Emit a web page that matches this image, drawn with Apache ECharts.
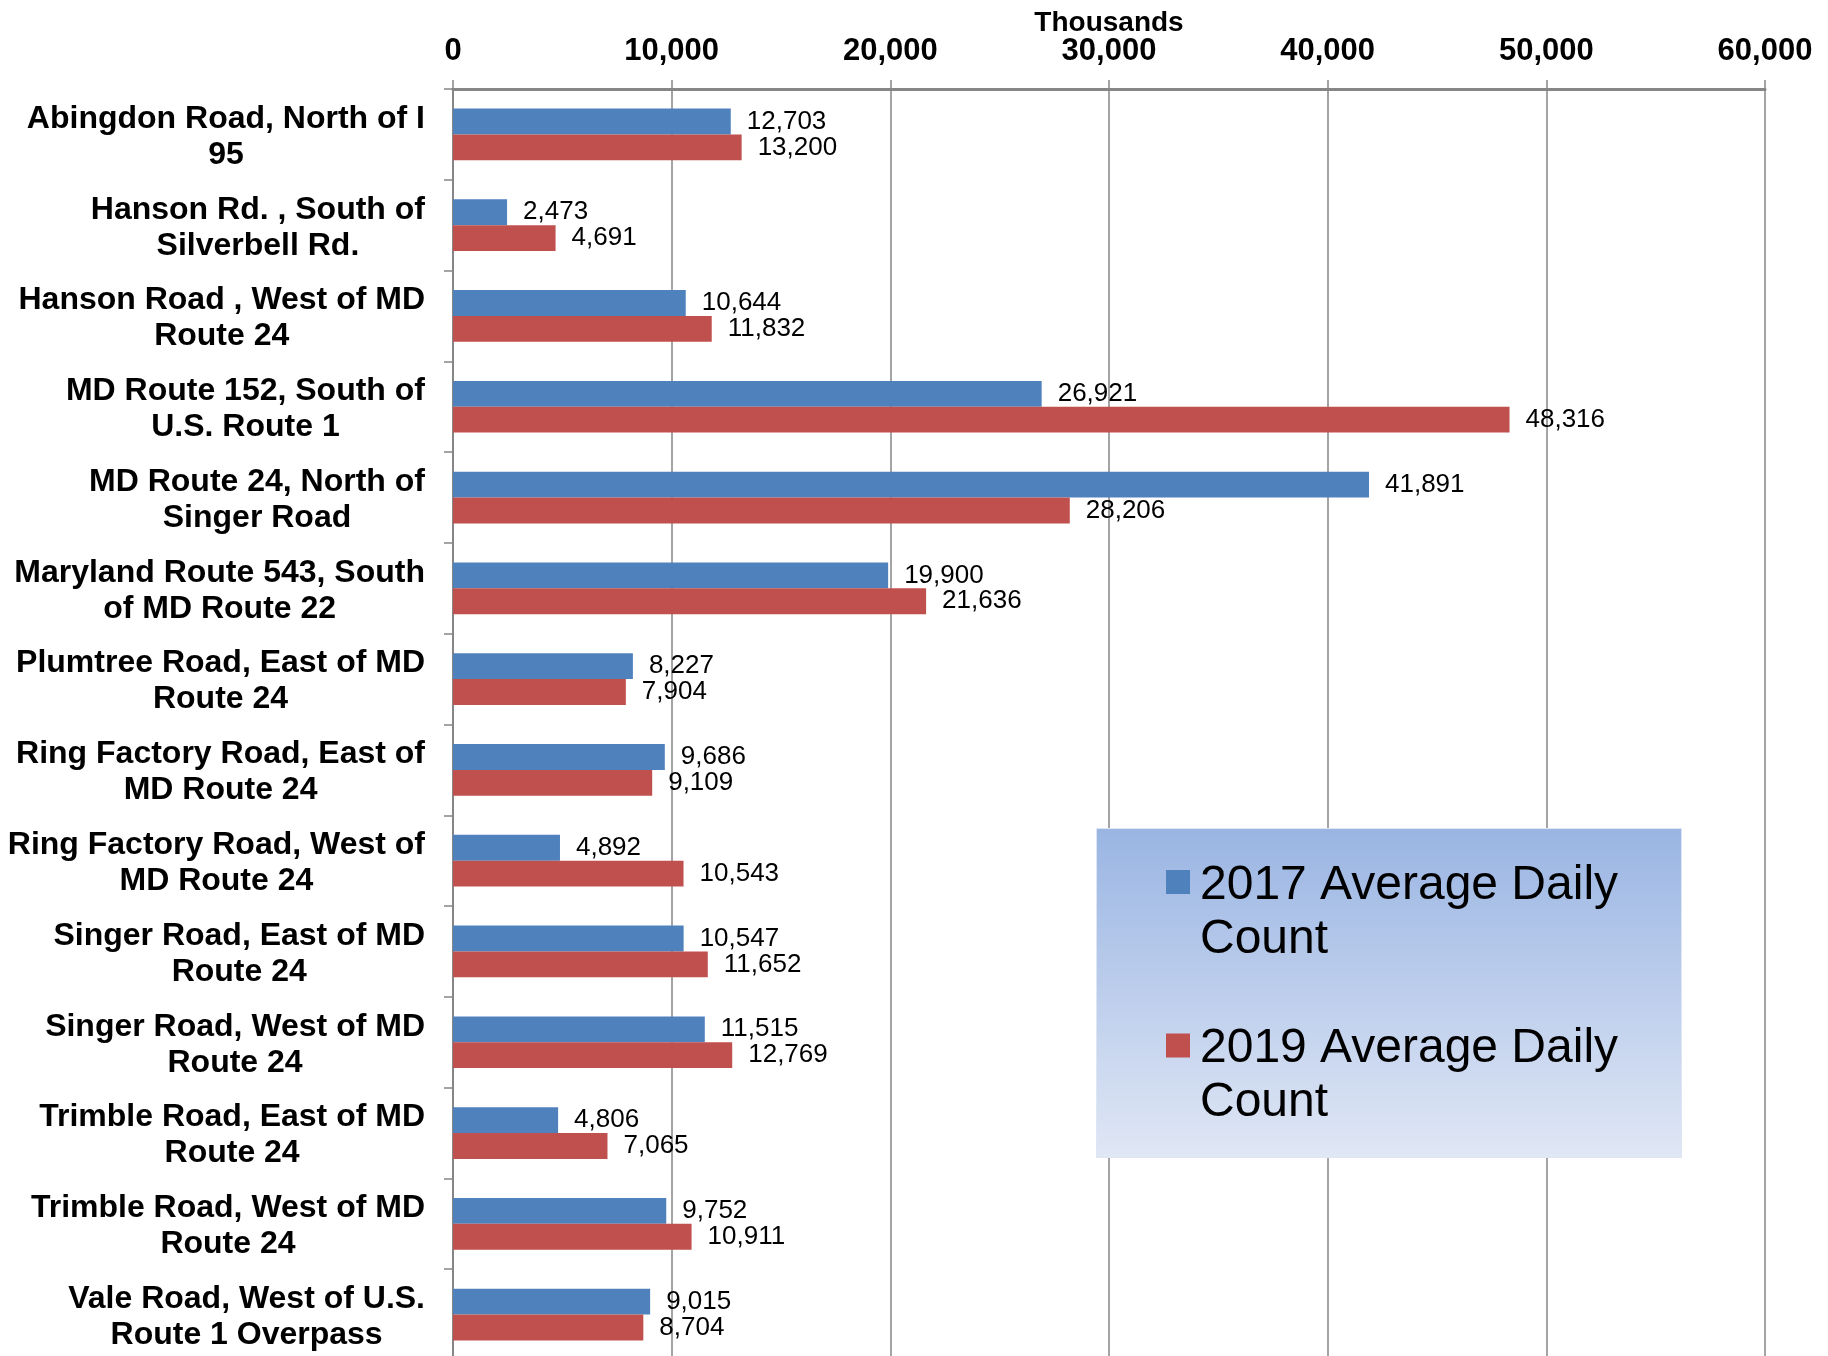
<!DOCTYPE html>
<html>
<head>
<meta charset="utf-8">
<title>Average Daily Count</title>
<script src="https://cdn.jsdelivr.net/npm/echarts@6/dist/echarts.min.js"></script>
<style>
  html, body { margin: 0; padding: 0; background: #fff; }
  #chart { width: 1828px; height: 1356px; }
</style>
</head>
<body>
<div id="chart"></div>
<script>
  const locations = [
    'Abingdon Road, North of I\n95',
    'Hanson Rd. , South of\nSilverbell Rd.',
    'Hanson Road , West of MD\nRoute 24',
    'MD Route 152, South of\nU.S. Route 1',
    'MD Route 24, North of\nSinger Road',
    'Maryland Route 543, South\nof MD Route 22',
    'Plumtree Road, East of MD\nRoute 24',
    'Ring Factory Road, East of\nMD Route 24',
    'Ring Factory Road, West of\nMD Route 24',
    'Singer Road, East of MD\nRoute 24',
    'Singer Road, West of MD\nRoute 24',
    'Trimble Road, East of MD\nRoute 24',
    'Trimble Road, West of MD\nRoute 24',
    'Vale Road, West of U.S.\nRoute 1 Overpass'
  ];
  const count2017 = [12703, 2473, 10644, 26921, 41891, 19900, 8227, 9686, 4892, 10547, 11515, 4806, 9752, 9015];
  const count2019 = [13200, 4691, 11832, 48316, 28206, 21636, 7904, 9109, 10543, 11652, 12769, 7065, 10911, 8704];
  const seriesNames = ['2017 Average Daily\nCount', '2019 Average Daily\nCount'];

  const font = '"Liberation Sans", Arial, sans-serif';
  const gray = '#868686';

  const chart = echarts.init(document.getElementById('chart'));

  const barLabel = {
    show: true,
    position: 'right',
    distance: 16,
    color: '#000',
    fontFamily: font,
    fontSize: 26,
    formatter: (p) => p.value.toLocaleString('en-US')
  };

  const option = {
    animation: false,
    grid: { left: 453, right: 63, top: 89, bottom: -4, containLabel: false, outerBoundsMode: 'none' },
    xAxis: {
      type: 'value',
      position: 'top',
      min: 0,
      max: 60000,
      interval: 10000,
      name: 'Thousands',
      nameLocation: 'middle',
      nameGap: 52,
      nameMoveOverlap: false,
      nameTextStyle: { fontFamily: font, fontSize: 28, fontWeight: 'bold', color: '#000' },
      axisLine: { show: true, lineStyle: { color: gray, width: 3 } },
      axisTick: { show: true, length: 9, lineStyle: { color: gray, width: 1.5 } },
      axisLabel: {
        margin: 22,
        fontFamily: font,
        fontSize: 31,
        fontWeight: 'bold',
        color: '#000',
        formatter: (v) => v.toLocaleString('en-US')
      },
      splitLine: { show: true, lineStyle: { color: gray, width: 1.5 } }
    },
    yAxis: {
      type: 'category',
      inverse: true,
      data: locations,
      axisLine: { show: true, lineStyle: { color: gray, width: 2 } },
      axisTick: { show: true, length: 9, lineStyle: { color: gray, width: 1.5 } },
      axisLabel: {
        margin: 28,
        align: 'right',
        padding: [5, 0, 0, 0],
        // each line centred under the longest one
        formatter: (v) => v.split('\n').map((l) => '{c|' + l + '}').join('\n'),
        rich: {
          c: {
            align: 'center',
            fontFamily: font,
            fontSize: 32,
            fontWeight: 'bold',
            lineHeight: 36,
            color: '#000'
          }
        }
      }
    },
    legend: {
      orient: 'vertical',
      left: 1166,
      top: 804,
      padding: 0,
      itemGap: 4,
      itemWidth: 24,
      itemHeight: 24,
      icon: 'rect',
      selectedMode: false,
      // blank first line so the marker sits beside the first text line
      formatter: (name) => '{s| }\n' + name.split('\n').map((l) => '{t|' + l + '}').join('\n'),
      textStyle: {
        fontFamily: font,
        fontSize: 48,
        color: '#000',
        rich: {
          s: { fontFamily: font, fontSize: 48, lineHeight: 61 },
          t: { fontFamily: font, fontSize: 48, lineHeight: 54, color: '#000', padding: [0, 0, 0, 5] }
        }
      },
      data: seriesNames
    },
    graphic: [
      {
        type: 'rect',
        left: 1096,
        top: 828,
        z: 3,
        shape: { width: 585, height: 329 },
        style: {
          fill: new echarts.graphic.LinearGradient(0, 0, 0, 1, [
            { offset: 0, color: '#9ab5e3' },
            { offset: 1, color: '#e0e7f5' }
          ]),
          stroke: '#dfe6f3',
          lineWidth: 1
        }
      }
    ],
    series: [
      {
        name: seriesNames[0],
        type: 'bar',
        data: count2017,
        barGap: '0%',
        barCategoryGap: '43%',
        itemStyle: { color: '#4f81bd' },
        label: barLabel
      },
      {
        name: seriesNames[1],
        type: 'bar',
        data: count2019,
        barGap: '0%',
        barCategoryGap: '43%',
        itemStyle: { color: '#c0504d' },
        label: barLabel
      }
    ]
  };

  chart.setOption(option);
</script>
</body>
</html>
